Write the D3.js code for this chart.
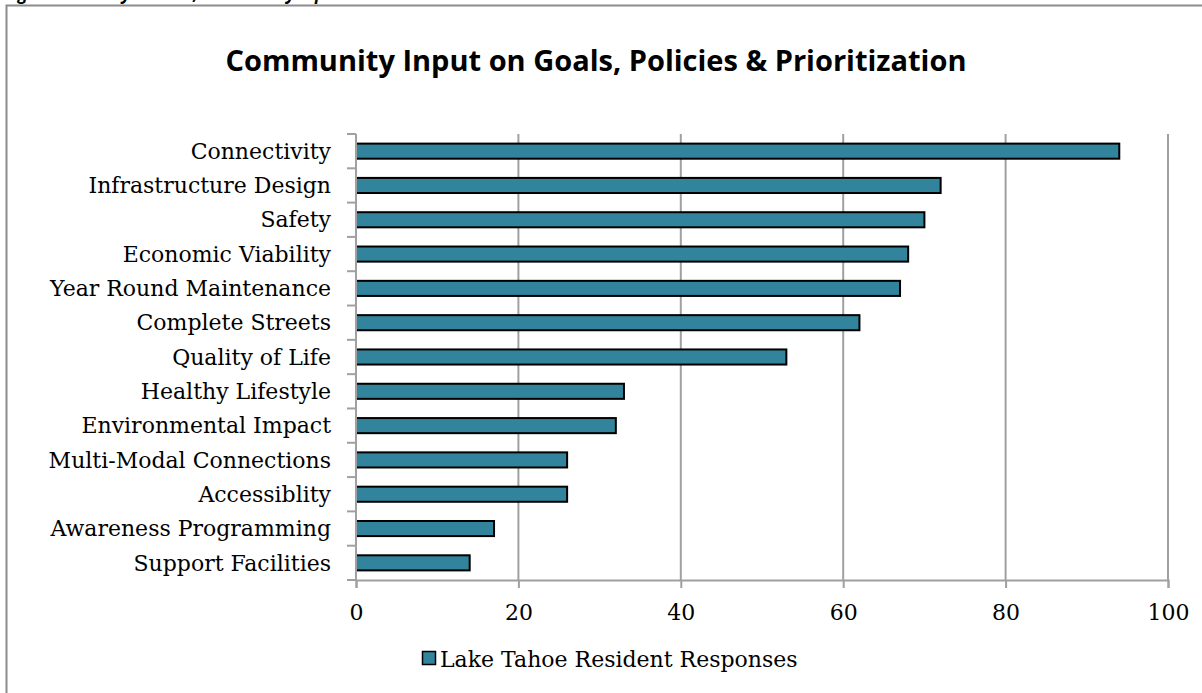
<!DOCTYPE html>
<html>
<head>
<meta charset="utf-8">
<script src="https://cdn.jsdelivr.net/npm/d3@7"></script>
<style>
  body { margin: 0; background: #fff; }
  svg { display: block; }
</style>
</head>
<body>
<div id="vis"></div>
<script>
// chart data
let categories = ['Connectivity', 'Infrastructure Design', 'Safety', 'Economic Viability',
    'Year Round Maintenance', 'Complete Streets', 'Quality of Life', 'Healthy Lifestyle',
    'Environmental Impact', 'Multi-Modal Connections', 'Accessiblity', 'Awareness Programming',
    'Support Facilities'];
let responses = [94, 72, 70, 68, 67, 62, 53, 33, 32, 26, 26, 17, 14];
let xTicks = [0, 20, 40, 60, 80, 100];
let seriesName = 'Lake Tahoe Resident Responses';
let chartTitle = 'Community Input on Goals, Policies & Prioritization';

let W = 1202, H = 693;
let margin = { top: 134, left: 356, right: 34, bottom: 113 };
let serif = '"DejaVu Serif", "Liberation Serif", serif';
let labelSize = 22;
let barColor = '#31849b';
let gridColor = '#a0a0a0';

let svg = d3.select('#vis')
    .append('svg')
    .attr('width', W)
    .attr('height', H);

// frame around the figure
svg.append('rect')
    .attr('x', 6.5).attr('y', 5.5)
    .attr('width', 1210).attr('height', 700)
    .attr('fill', 'none')
    .attr('stroke', '#8c8c8c')
    .attr('stroke-width', 2);

// caption above the frame, cut off by the page edge like in the source
svg.append('text')
    .attr('x', 4).attr('y', 0)
    .attr('font-family', '"Open Sans", sans-serif')
    .attr('font-weight', 'bold')
    .attr('font-style', 'italic')
    .attr('font-size', 17)
    .attr('fill', '#000')
    .text('Figure 9: Survey Results, Community Input on Prioritization');

let x = d3.scaleLinear()
    .domain([0, 100])
    .range([margin.left, W - margin.right]);

let y = d3.scaleBand()
    .domain(categories)
    .range([margin.top, H - margin.bottom])
    .paddingInner(0.56)
    .paddingOuter(0.28);

// vertical gridlines
svg.append('g')
    .selectAll('line')
    .data(xTicks.slice(1))
    .join('line')
    .attr('x1', d => x(d)).attr('x2', d => x(d))
    .attr('y1', margin.top).attr('y2', H - margin.bottom)
    .attr('stroke', gridColor)
    .attr('stroke-width', 2);

// bars
svg.append('g')
    .selectAll('rect')
    .data(categories)
    .join('rect')
    .attr('x', x(0))
    .attr('y', d => y(d))
    .attr('width', (d, i) => x(responses[i]) - x(0))
    .attr('height', y.bandwidth())
    .attr('fill', barColor)
    .attr('stroke', '#000')
    .attr('stroke-width', 2);

// x axis
let xAxis = svg.append('g')
    .attr('transform', `translate(0,${H - margin.bottom})`)
    .call(d3.axisBottom(x).tickValues(xTicks).tickSize(8).tickPadding(16));
xAxis.select('.domain').attr('stroke', gridColor).attr('stroke-width', 2);
xAxis.selectAll('.tick line').attr('stroke', gridColor).attr('stroke-width', 2);
xAxis.selectAll('text')
    .attr('font-family', serif)
    .attr('font-size', labelSize)
    .attr('fill', '#000');

// y axis: category separators
let step = y.step();
let yEdges = d3.range(categories.length + 1).map(i => margin.top + i * step);
let yAxisG = svg.append('g');
yAxisG.append('line')
    .attr('x1', x(0)).attr('x2', x(0))
    .attr('y1', margin.top).attr('y2', H - margin.bottom)
    .attr('stroke', gridColor)
    .attr('stroke-width', 2);
yAxisG.selectAll('line.sep')
    .data(yEdges)
    .join('line')
    .attr('class', 'sep')
    .attr('x1', x(0) - 9).attr('x2', x(0))
    .attr('y1', d => d).attr('y2', d => d)
    .attr('stroke', gridColor)
    .attr('stroke-width', 2);

// category labels
svg.append('g')
    .selectAll('text')
    .data(categories)
    .join('text')
    .attr('x', 331)
    .attr('y', d => y(d) + y.bandwidth() / 2)
    .attr('dy', '0.35em')
    .attr('text-anchor', 'end')
    .attr('font-family', serif)
    .attr('font-size', labelSize)
    .attr('fill', '#000')
    .text(d => d);

// title
svg.append('text')
    .attr('x', 596).attr('y', 71)
    .attr('text-anchor', 'middle')
    .attr('font-family', '"Open Sans", sans-serif')
    .attr('font-weight', 'bold')
    .attr('font-size', 29)
    .attr('fill', '#000')
    .text(chartTitle);

// legend
let legend = svg.append('g').attr('transform', 'translate(422,651)');
legend.append('rect')
    .attr('x', 0.5).attr('y', 0.5)
    .attr('width', 13).attr('height', 13)
    .attr('fill', barColor)
    .attr('stroke', '#000')
    .attr('stroke-width', 1.5);
legend.append('text')
    .attr('x', 18).attr('y', 16)
    .attr('font-family', serif)
    .attr('font-size', labelSize)
    .attr('fill', '#000')
    .text(seriesName);
</script>
</body>
</html>
